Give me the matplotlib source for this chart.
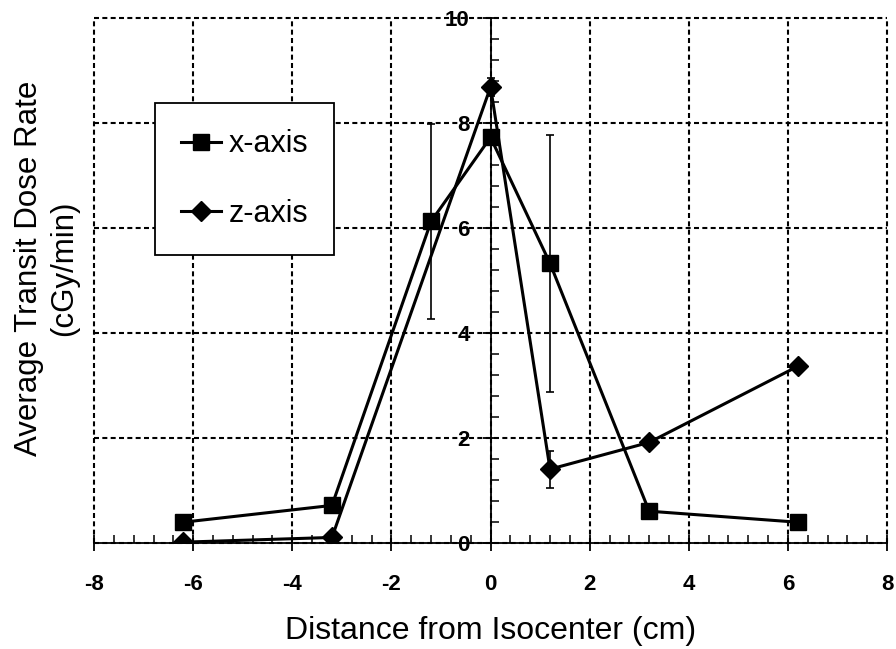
import numpy as np
import matplotlib.pyplot as plt
from matplotlib.ticker import MultipleLocator

# data
x_pos = [-6.2, -3.2, -1.2, 0.0, 1.2, 3.2, 6.2]
x_rate = [0.40, 0.72, 6.13, 7.73, 5.33, 0.61, 0.40]
x_err = [0.0, 0.0, 1.86, 0.0, 2.45, 0.0, 0.0]

z_pos = [-6.2, -3.2, 0.0, 1.2, 3.2, 6.2]
z_rate = [0.02, 0.11, 8.69, 1.41, 1.92, 3.37]
z_err = [0.0, 0.0, 0.18, 0.35, 0.0, 0.0]

xticks = np.arange(-8, 9, 2)
yticks = np.arange(0, 11, 2)

plt.rcParams['font.family'] = ['Liberation Sans', 'DejaVu Sans']
plt.rcParams['axes.unicode_minus'] = False

fig = plt.figure(figsize=(8.96, 6.49), dpi=100)
ax = fig.add_axes([0.105, 0.163, 0.885, 0.809])

# error bars first, then lines with markers on top
ax.errorbar(x_pos, x_rate, yerr=x_err, fmt='none', ecolor='black',
            elinewidth=1.2, capsize=3, capthick=1.2, zorder=3)
ax.errorbar(z_pos, z_rate, yerr=z_err, fmt='none', ecolor='black',
            elinewidth=1.2, capsize=3, capthick=1.2, zorder=3)
ax.plot(x_pos, x_rate, '-s', color='black', lw=2.2, markersize=12,
        label='x-axis', zorder=4)
ax.plot(z_pos, z_rate, '-D', color='black', lw=2.2, markersize=10.5,
        label='z-axis', zorder=4)

ax.set_xlim(-8, 8)
ax.set_ylim(0, 10)
ax.set_xticks(xticks)
ax.set_yticks(yticks)
ax.xaxis.set_minor_locator(MultipleLocator(0.4))
ax.yaxis.set_minor_locator(MultipleLocator(0.4))

ax.spines['left'].set_position(('data', 0))
for s in ['right', 'top']:
    ax.spines[s].set_visible(False)
ax.spines['left'].set_linewidth(1.3)
ax.spines['bottom'].set_linewidth(1.3)

ax.tick_params(which='major', direction='inout', length=12, width=1.3,
               labelsize=16)
ax.tick_params(which='minor', direction='in', length=6, width=1.1)
ax.tick_params(axis='y', pad=9)
ax.tick_params(axis='x', pad=16)
for lab in ax.get_xticklabels() + ax.get_yticklabels():
    lab.set_fontweight('bold')

ax.grid(True, which='major', color='black', ls=(0, (2.4, 1.6)), lw=1.5)
ax.set_axisbelow(True)
for gl in ax.get_xgridlines() + ax.get_ygridlines():
    gl.set_clip_on(False)

ax.set_xlabel('Distance from Isocenter (cm)', fontsize=23)
ax.xaxis.label.set_va('center')
ax.xaxis.set_label_coords(0.5, -0.168)
fig.text(0.052, 0.586, 'Average Transit Dose Rate\n(cGy/min)', rotation=90,
         ha='center', va='center', fontsize=22.5, linespacing=1.25)

leg = ax.legend(loc='upper left', bbox_to_anchor=(0.077, 0.838), fontsize=22,
                frameon=True, fancybox=False, edgecolor='black',
                framealpha=1, labelspacing=1.3, handlelength=1.3,
                handletextpad=0.25, borderpad=0.85, borderaxespad=0)
leg.get_frame().set_linewidth(1.3)

fig.savefig('out.png', dpi=100)
